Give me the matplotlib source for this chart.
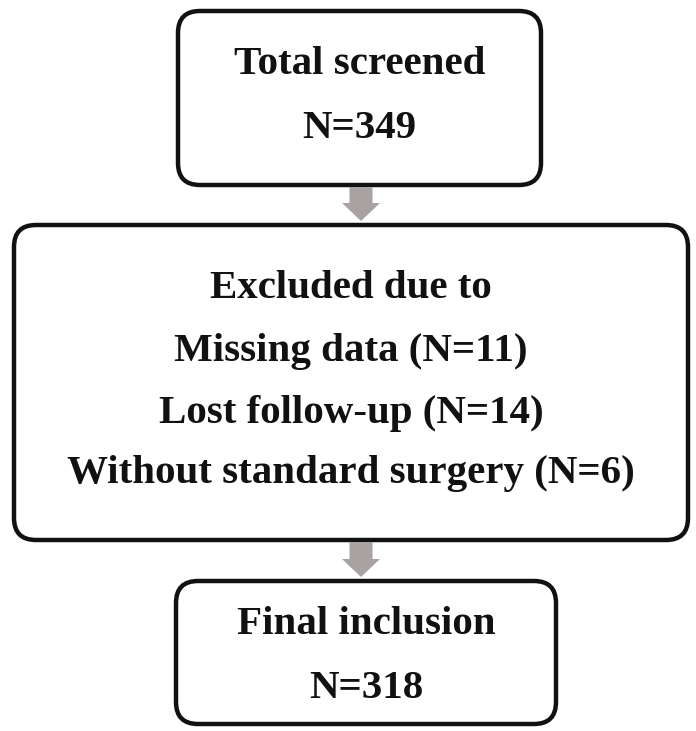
import matplotlib
matplotlib.use("Agg")
import matplotlib.pyplot as plt
from matplotlib.patches import FancyBboxPatch, FancyArrow

box_texts = [
    ["Total screened", "N=349"],
    ["Excluded due to", "Missing data (N=11)", "Lost follow-up (N=14)",
     "Without standard surgery (N=6)"],
    ["Final inclusion", "N=318"],
]
# layout (pixel coordinates, y downward)
box_x0 = [178, 14, 176]
box_x1 = [541, 688, 556]
box_y0 = [11, 225, 581]
box_y1 = [185, 540, 724]
line_y = [[64, 128], [289, 352, 413, 474], [624, 688]]

fig = plt.figure(figsize=(6.96, 7.31), dpi=100)
ax = fig.add_axes([0, 0, 1, 1])
ax.set_xlim(0, 696)
ax.set_ylim(731, 0)
ax.axis("off")

for i, lines in enumerate(box_texts):
    x0, x1, y0, y1 = box_x0[i], box_x1[i], box_y0[i], box_y1[i]
    r = 22
    p = FancyBboxPatch((x0 + r, y0 + r), (x1 - x0) - 2 * r, (y1 - y0) - 2 * r,
                       boxstyle=f"round,pad={r},rounding_size={r}",
                       fc="white", ec="#111111", lw=3.2)
    ax.add_patch(p)
    cx = (x0 + x1) / 2
    for t, y in zip(lines, line_y[i]):
        ax.text(cx, y, t, ha="center", va="center", fontsize=29.5,
                fontweight="bold", family="Liberation Serif", color="#111111")

# arrows between boxes
arrow_col = "#a8a2a2"
for i in range(len(box_texts) - 1):
    cx = 361
    ys = box_y1[i] + 2
    ye = box_y0[i + 1] - 4
    ax.add_patch(FancyArrow(cx, ys, 0, ye - ys, width=23, head_width=38,
                            head_length=18, length_includes_head=True,
                            fc=arrow_col, ec="none"))

fig.savefig("out.png", dpi=100, facecolor="white")
